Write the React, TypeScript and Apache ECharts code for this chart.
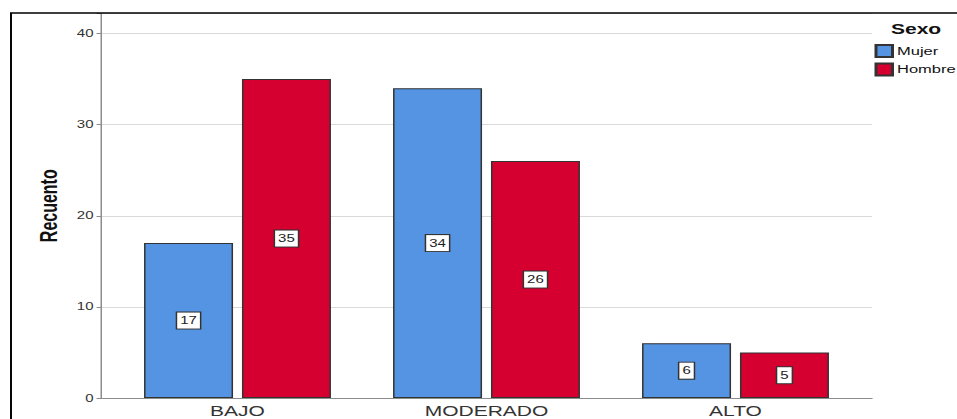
import React, { useEffect, useRef } from "react";
import * as echarts from "echarts";

const CATEGORIES = ["BAJO", "MODERADO", "ALTO"];
const MUJER = [17, 34, 6];
const HOMBRE = [35, 26, 5];
const SERIES_NAMES = ["Mujer", "Hombre"];
const LEGEND_TITLE = "Sexo";
const Y_NAME = "Recuento";
const Y_TICKS = [0, 10, 20, 30, 40];

const FONT = "'Liberation Sans', Arial, sans-serif";
const STRETCH = 1.5;
const W = 957 / STRETCH;
const H = 419;

export default function App() {
  const ref = useRef<HTMLDivElement>(null);

  useEffect(() => {
    if (!ref.current) return;
    const chart = echarts.init(ref.current, null, { renderer: "svg", width: W, height: H });
    const yMax = 42.2;
    const labelStyle = {
      show: true,
      position: "inside",
      fontFamily: FONT,
      fontSize: 10,
      color: "#222",
      backgroundColor: "#fff",
      borderColor: "#333",
      borderWidth: 1,
      padding: [3, 2],
    };
    const option: any = {
      animation: false,
      backgroundColor: "#ffffff",
      textStyle: { fontFamily: FONT },
      title: {
        text: LEGEND_TITLE,
        left: 594,
        top: 22,
        padding: 0,
        textStyle: { fontFamily: FONT, fontSize: 14, fontWeight: "bold", color: "#111" },
      },
      legend: {
        orient: "vertical",
        left: 583,
        top: 44,
        padding: 0,
        itemWidth: 11,
        itemHeight: 12,
        itemGap: 4.5,
        icon: "rect",
        textStyle: { fontFamily: FONT, fontSize: 11, color: "#111", padding: [0, 0, 0, -2] },
        data: SERIES_NAMES,
      },
      graphic: [
        {
          type: "rect",
          silent: true,
          shape: { x: 11 / STRETCH, y: 13, width: 1000, height: 1000 },
          style: { fill: "none", stroke: "#000", lineWidth: 1.3 },
          z: 10,
        },
      ],
      grid: [
        { left: 101 / STRETCH, right: W - 872 / STRETCH, top: 13.5, bottom: 21, outerBoundsMode: "none", containLabel: false },
        { left: 113 / STRETCH, right: W - 860 / STRETCH, top: 13.5, bottom: 21, outerBoundsMode: "none", containLabel: false },
      ],
      xAxis: [
        {
          gridIndex: 0,
          type: "category",
          data: [""],
          axisLine: { show: true, lineStyle: { color: "#8c8c8c", width: 1 } },
          axisTick: { show: false },
          axisLabel: { show: false },
          splitLine: { show: false },
        },
        {
          gridIndex: 1,
          type: "category",
          data: CATEGORIES,
          axisLine: { show: false },
          axisTick: { show: false },
          axisLabel: { fontFamily: FONT, fontSize: 14, lineHeight: 14, color: "#333", margin: 6 },
        },
      ],
      yAxis: [
        {
          gridIndex: 0,
          type: "value",
          min: 0,
          max: yMax,
          interval: 10,
          name: Y_NAME,
          nameLocation: "middle",
          nameRotate: 90,
          nameGap: 27,
          nameTextStyle: { fontFamily: FONT, fontSize: 16, fontWeight: "bold", color: "#111" },
          axisLine: { show: true, lineStyle: { color: "#8c8c8c", width: 1 } },
          axisTick: { show: true, length: 3, lineStyle: { color: "#8c8c8c" } },
          axisLabel: {
            fontFamily: FONT,
            fontSize: 10,
            color: "#333",
            margin: 5,
            formatter: (v: number) => (Y_TICKS.includes(v) ? String(v) : ""),
          },
          splitLine: { show: true, lineStyle: { color: "#d9d9d9", width: 1 } },
        },
        {
          gridIndex: 1,
          type: "value",
          min: 0,
          max: yMax,
          show: false,
        },
      ],
      series: [
        {
          name: SERIES_NAMES[0],
          type: "bar",
          xAxisIndex: 1,
          yAxisIndex: 1,
          data: MUJER,
          barWidth: 89 / STRETCH,
          barGap: "10%",
          itemStyle: { color: "#5594e3", borderColor: "#333", borderWidth: 1 },
          label: labelStyle,
        },
        {
          name: SERIES_NAMES[1],
          type: "bar",
          xAxisIndex: 1,
          yAxisIndex: 1,
          data: HOMBRE,
          barWidth: 89 / STRETCH,
          barGap: "10%",
          itemStyle: { color: "#d50030", borderColor: "#333", borderWidth: 1 },
          label: labelStyle,
        },
      ],
    };
    chart.setOption(option);
    return () => chart.dispose();
  }, []);

  return (
    <div
      ref={ref}
      style={{
        position: "absolute",
        left: 0,
        top: 0,
        width: W,
        height: H,
        overflow: "hidden",
        background: "#fff",
        transform: `scaleX(${STRETCH})`,
        transformOrigin: "0 0",
      }}
    />
  );
}
